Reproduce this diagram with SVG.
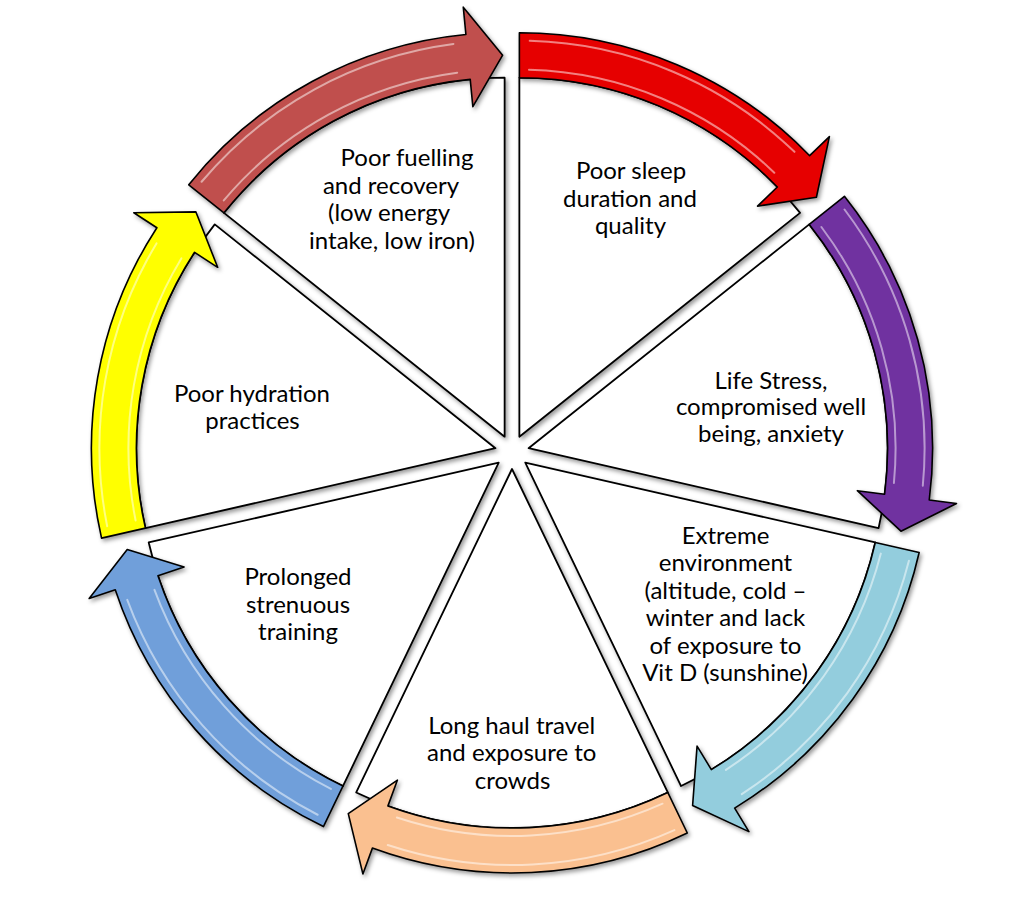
<svg xmlns="http://www.w3.org/2000/svg" xmlns:xlink="http://www.w3.org/1999/xlink" width="1024" height="910" viewBox="0 0 1024 910">
<defs>
<style>
.sector{fill:#fff;stroke:#000;stroke-width:1.8;stroke-linejoin:round}
.arrow{stroke:#000;stroke-width:1.6;stroke-linejoin:round}
.hl{fill:none;stroke:#fff;stroke-width:2;stroke-opacity:.5;stroke-linecap:round}
.lbl{font-family:Lato,"Open Sans","Liberation Sans",sans-serif;font-size:24px;fill:#000;text-anchor:middle}
</style>
<filter id="sh" x="-10%" y="-10%" width="125%" height="125%">
<feDropShadow dx="2" dy="2.5" stdDeviation="2.2" flood-color="#000" flood-opacity="0.4"/>
</filter>
<path id="sec" d="M0,0 L0,-359 A359,359 0 0 1 280.68,-223.83 Z"/>
<path id="arr" d="M0,-404 A404,404 0 0 1 290.27,-281.00 L310.03,-300.13 L297.02,-239.42 L238.18,-230.57 L257.94,-249.70 A359,359 0 0 0 0,-359 Z"/>
<path id="hil" d="M10.37,-395.86 A396,396 0 0 1 275.09,-284.86 M9.61,-366.87 A367,367 0 0 1 254.94,-263.99"/>
</defs>
<rect width="1024" height="910" fill="#fff"/>

<g id="node-sleep">
<g filter="url(#sh)"><use xlink:href="#sec" class="sector" transform="translate(512,452) rotate(0) translate(7.376,-15.316)"/></g>
<text class="lbl"><tspan x="631" y="179">Poor sleep</tspan><tspan x="630" y="206.5">duration and</tspan><tspan x="630.5" y="233.5">quality</tspan></text>
</g>
<g id="node-stress">
<g filter="url(#sh)"><use xlink:href="#sec" class="sector" transform="translate(512,452) rotate(51.428571) translate(7.376,-15.316)"/></g>
<text class="lbl"><tspan x="771" y="388.5">Life Stress,</tspan><tspan x="771" y="415.3">compromised well</tspan><tspan x="771" y="442">being, anxiety</tspan></text>
</g>
<g id="node-environment">
<g filter="url(#sh)"><use xlink:href="#sec" class="sector" transform="translate(512,452) rotate(102.857143) translate(7.376,-15.316)"/></g>
<text class="lbl"><tspan x="725.5" y="543.5">Extreme</tspan><tspan x="725.5" y="571">environment</tspan><tspan x="725.5" y="598.5">(altitude, cold –</tspan><tspan x="725.5" y="626">winter and lack</tspan><tspan x="725.5" y="653.5">of exposure to</tspan><tspan x="725" y="681">Vit D (sunshine)</tspan></text>
</g>
<g id="node-travel">
<g filter="url(#sh)"><use xlink:href="#sec" class="sector" transform="translate(512,452) rotate(154.285714) translate(7.376,-15.316)"/></g>
<text class="lbl"><tspan x="511.7" y="733.5">Long haul travel</tspan><tspan x="511.7" y="761">and exposure to</tspan><tspan x="512.5" y="788.5">crowds</tspan></text>
</g>
<g id="node-training">
<g filter="url(#sh)"><use xlink:href="#sec" class="sector" transform="translate(512,452) rotate(205.714286) translate(7.376,-15.316)"/></g>
<text class="lbl"><tspan x="298" y="585.3">Prolonged</tspan><tspan x="298" y="612.6">strenuous</tspan><tspan x="298" y="640">training</tspan></text>
</g>
<g id="node-hydration">
<g filter="url(#sh)"><use xlink:href="#sec" class="sector" transform="translate(512,452) rotate(257.142857) translate(7.376,-15.316)"/></g>
<text class="lbl"><tspan x="252" y="401.7">Poor hydration</tspan><tspan x="252.5" y="429">practices</tspan></text>
</g>
<g id="node-fuelling">
<g filter="url(#sh)"><use xlink:href="#sec" class="sector" transform="translate(512,452) rotate(308.571429) translate(7.376,-15.316)"/></g>
<text class="lbl"><tspan x="407" y="166">Poor fuelling</tspan><tspan x="391" y="193.5">and recovery</tspan><tspan x="389" y="221">(low energy</tspan><tspan x="392" y="248.5">intake, low iron)</tspan></text>
</g>

<g id="connectors">
<g filter="url(#sh)"><g transform="translate(512,452) rotate(0) translate(7.376,-15.316)"><use xlink:href="#arr" class="arrow" fill="#E60000"/><use xlink:href="#hil" class="hl"/></g></g>
<g filter="url(#sh)"><g transform="translate(512,452) rotate(51.428571) translate(7.376,-15.316)"><use xlink:href="#arr" class="arrow" fill="#7030A0"/><use xlink:href="#hil" class="hl"/></g></g>
<g filter="url(#sh)"><g transform="translate(512,452) rotate(102.857143) translate(7.376,-15.316)"><use xlink:href="#arr" class="arrow" fill="#93CDDD"/><use xlink:href="#hil" class="hl"/></g></g>
<g filter="url(#sh)"><g transform="translate(512,452) rotate(154.285714) translate(7.376,-15.316)"><use xlink:href="#arr" class="arrow" fill="#FAC090"/><use xlink:href="#hil" class="hl"/></g></g>
<g filter="url(#sh)"><g transform="translate(512,452) rotate(205.714286) translate(7.376,-15.316)"><use xlink:href="#arr" class="arrow" fill="#6F9FDA"/><use xlink:href="#hil" class="hl"/></g></g>
<g filter="url(#sh)"><g transform="translate(512,452) rotate(257.142857) translate(7.376,-15.316)"><use xlink:href="#arr" class="arrow" fill="#FFFF00"/><use xlink:href="#hil" class="hl"/></g></g>
<g filter="url(#sh)"><g transform="translate(512,452) rotate(308.571429) translate(7.376,-15.316)"><use xlink:href="#arr" class="arrow" fill="#C0504D"/><use xlink:href="#hil" class="hl"/></g></g>
</g>
</svg>
